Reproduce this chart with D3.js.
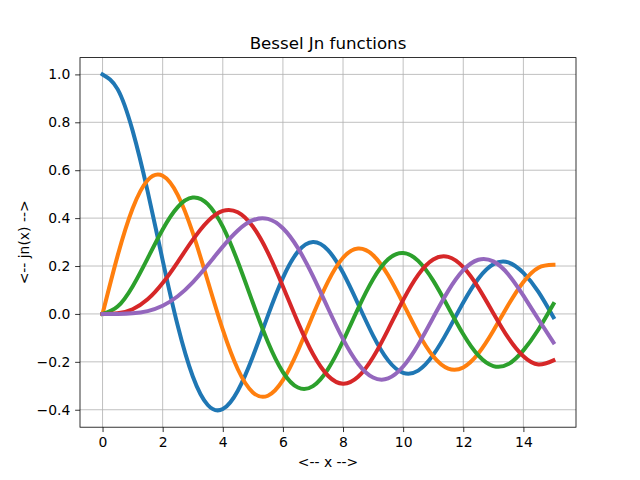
<!DOCTYPE html>
<html><head><meta charset="utf-8">
<script src="https://cdn.jsdelivr.net/npm/d3@7"></script>
<style>body{margin:0;background:#fff}text{font-family:"DejaVu Sans",sans-serif}</style>
</head><body>
<svg id="c" width="640" height="480"></svg>
<script>
const xs = [0,0.5,1,1.5,2,2.5,3,3.5,4,4.5,5,5.5,6,6.5,7,7.5,8,8.5,9,9.5,10,10.5,11,11.5,12,12.5,13,13.5,14,14.5,15];
const j0 = [1.0,0.93847,0.76520,0.51183,0.22389,-0.04838,-0.26005,-0.38013,-0.39715,-0.32054,-0.17760,-0.00684,0.15065,0.26009,0.30008,0.26634,0.17165,0.04194,-0.09033,-0.19393,-0.24594,-0.23665,-0.17119,-0.06765,0.04769,0.14688,0.20693,0.21498,0.17107,0.09170,-0.01422];
const j1 = [0,0.24227,0.44005,0.55794,0.57672,0.49709,0.33906,0.13738,-0.06604,-0.23106,-0.32758,-0.34144,-0.27668,-0.15384,-0.00468,0.13525,0.23464,0.27312,0.24531,0.16126,0.04347,-0.07897,-0.17679,-0.22836,-0.22345,-0.16548,-0.07032,0.03805,0.13338,0.19316,0.20510];
const j2 = [0,0.03060,0.11490,0.23209,0.35283,0.44606,0.48609,0.45863,0.36413,0.21785,0.04657,-0.11732,-0.24288,-0.30743,-0.30142,-0.23027,-0.11299,0.02232,0.14484,0.22788,0.25463,0.22161,0.13905,0.02794,-0.08493,-0.17336,-0.21775,-0.20934,-0.15202,-0.06506,0.04157];
const j3 = [0,0.00256,0.01956,0.06096,0.12894,0.21660,0.30906,0.38677,0.43017,0.42470,0.36483,0.25612,0.11476,-0.03535,-0.16756,-0.25806,-0.29114,-0.26262,-0.18094,-0.06531,0.05838,0.16339,0.22735,0.23808,0.19514,0.11000,0.00332,-0.10008,-0.17681,-0.21111,-0.19401];
const j4 = [0,0.00016,0.00248,0.01183,0.03400,0.07378,0.13203,0.20440,0.28113,0.34842,0.39123,0.39672,0.35764,0.27480,0.15780,0.02382,-0.10537,-0.20770,-0.26547,-0.26913,-0.21960,-0.12824,-0.01504,0.09628,0.18250,0.22616,0.21928,0.16486,0.07624,-0.02230,-0.11917];
const series = [j0,j1,j2,j3,j4];
const colors = ["#1f77b4","#ff7f0e","#2ca02c","#d62728","#9467bd"];
const xTicks = [0,2,4,6,8,10,12,14];
const yTicks = [-0.4,-0.2,0.0,0.2,0.4,0.6,0.8,1.0];
const titleText = "Bessel Jn functions";
const xLabel = "<-- x -->";
const yLabel = "<-- jn(x) -->";

const L=80,R=576,T=57.6,B=427.2;
const svg = d3.select("#c");
const x = d3.scaleLinear().domain([-0.75,15.75]).range([L,R]);
const yMin=-0.40276, yMax=1.0, m=(yMax-yMin)*0.05;
const y = d3.scaleLinear().domain([yMin-m,yMax+m]).range([B,T]);

// grid
const g = svg.append("g");
g.selectAll("line.gx").data(xTicks).join("line").attr("x1",d=>x(d)).attr("x2",d=>x(d)).attr("y1",T).attr("y2",B).attr("stroke","#b0b0b0").attr("stroke-width",0.8);
g.selectAll("line.gy").data(yTicks).join("line").attr("y1",d=>y(d)).attr("y2",d=>y(d)).attr("x1",L).attr("x2",R).attr("stroke","#b0b0b0").attr("stroke-width",0.8);

// lines
const line = d3.line().x((d,i)=>x(xs[i])).y(d=>y(d)).curve(d3.curveNatural);
series.forEach((s,k)=>{
  svg.append("path").attr("d",line(s)).attr("fill","none").attr("stroke",colors[k]).attr("stroke-width",4).attr("stroke-linecap","square").attr("stroke-linejoin","round");
});

// frame
svg.append("rect").attr("x",L).attr("y",T).attr("width",R-L).attr("height",B-T).attr("fill","none").attr("stroke","#000").attr("stroke-width",0.8);

const fmt = d=> (d<0?"\u2212":"")+Math.abs(d).toFixed(1);
const ax = svg.append("g").attr("transform",`translate(0,${B})`).call(d3.axisBottom(x).tickValues(xTicks).tickSize(4.86).tickPadding(4.86).tickFormat(d3.format("d")));
const ay = svg.append("g").attr("transform",`translate(${L},0)`).call(d3.axisLeft(y).tickValues(yTicks).tickSize(4.86).tickPadding(4.86).tickFormat(fmt));
[ax,ay].forEach(a=>{
  a.select(".domain").remove();
  a.selectAll("line").attr("stroke","#000").attr("stroke-width",0.8);
  a.selectAll("text").attr("font-size","13.9px").attr("fill","#000").attr("font-family","DejaVu Sans");
});

svg.append("text").attr("x",(L+R)/2).attr("y",T-8.3).attr("text-anchor","middle").attr("font-size","16.67px").text(titleText);
svg.append("text").attr("x",(L+R)/2).attr("y",467).attr("text-anchor","middle").attr("font-size","13.9px").text(xLabel);
svg.append("text").attr("transform",`translate(29,${(T+B)/2}) rotate(-90)`).attr("text-anchor","middle").attr("font-size","13.9px").text(yLabel);
</script>
</body></html>
